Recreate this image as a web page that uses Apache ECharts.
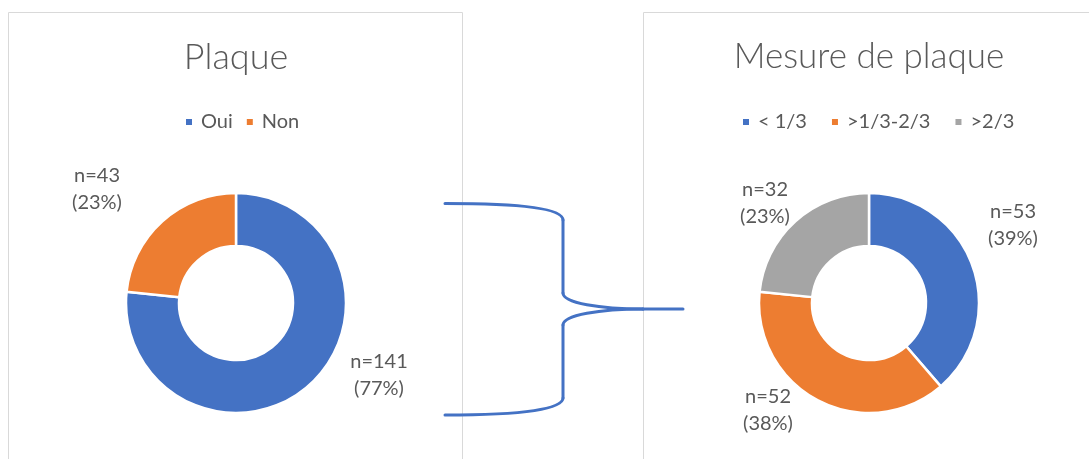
<!DOCTYPE html>
<html>
<head>
<meta charset="utf-8">
<script src="https://cdn.jsdelivr.net/npm/echarts@6/dist/echarts.min.js"></script>
<style>
html,body{margin:0;padding:0;background:#fff;}
#c{width:1089px;height:459px;}
</style>
</head>
<body>
<div id="c"></div>
<script>
// ---- data ----
const titleA = 'Plaque';
const catsA = ['Oui', 'Non'];
const valsA = [141, 43];
const titleB = 'Mesure de plaque';
const catsB = ['< 1/3', '>1/3-2/3', '>2/3'];
const valsB = [53, 52, 32];

// ---- layout / style ----
const FONT = 'Lato, "Open Sans", sans-serif';
const TXT = '#595959';
const COLORS = ['#4472C4', '#ED7D31', '#A5A5A5'];
const centerA = [236, 303];
const centerB = [869, 303];
// label anchor offsets from pie centre (layout only)
const labelOffA = [[143, 72], [-139, -114]];
const labelOffB = [[144, -78], [-101, 107], [-104, -100]];

const chart = echarts.init(document.getElementById('c'), null, {renderer: 'canvas'});

function pieSeries(cats, vals, center, offs) {
  return {
    type: 'pie',
    center: center,
    radius: [57, 110],
    startAngle: 90,
    clockwise: true,
    percentPrecision: 0,
    avoidLabelOverlap: false,
    data: cats.map((n, i) => ({name: n, value: vals[i], itemStyle: {color: COLORS[i]}})),
    itemStyle: {borderColor: '#fff', borderWidth: 2.5},
    label: {
      show: true,
      position: 'outside',
      formatter: 'n={c}\n({d}%)',
      fontFamily: FONT,
      fontSize: 20,
      lineHeight: 27,
      color: TXT,
      align: 'center'
    },
    labelLine: {show: false},
    labelLayout: function (p) {
      const o = offs[p.dataIndex];
      return {x: center[0] + o[0], y: center[1] + o[1], align: 'center', verticalAlign: 'middle'};
    },
    emphasis: {disabled: true},
    animation: false
  };
}

const legendCommon = {
  icon: 'rect',
  itemWidth: 8,
  itemHeight: 8,
  top: 107,
  textStyle: {fontFamily: FONT, fontSize: 20, color: TXT, padding: [0, 0, 0, 3]},
  selectedMode: false
};

const braceStyle = {fill: 'none', stroke: '#4472C4', lineWidth: 3, lineCap: 'round'};
function bz(x1, y1, cx1, cy1, cx2, cy2, x2, y2) {
  return {type: 'bezierCurve', silent: true, z: 10,
    shape: {x1: x1, y1: y1, cpx1: cx1, cpy1: cy1, cpx2: cx2, cpy2: cy2, x2: x2, y2: y2},
    style: braceStyle};
}
function ln(x1, y1, x2, y2) {
  return {type: 'line', silent: true, z: 10, shape: {x1: x1, y1: y1, x2: x2, y2: y2}, style: braceStyle};
}

chart.setOption({
  animation: false,
  title: [
    {text: titleA, left: centerA[0] - 5, top: 34, textAlign: 'center',
     textStyle: {fontFamily: FONT, fontSize: 36, fontWeight: 300, color: TXT}},
    {text: titleB, left: centerB[0] - 5, top: 34, textAlign: 'center',
     textStyle: {fontFamily: FONT, fontSize: 35, fontWeight: 300, color: TXT}}
  ],
  legend: [
    Object.assign({}, legendCommon, {data: catsA, left: 179, itemGap: 12}),
    Object.assign({}, legendCommon, {data: catsB, left: 736, itemGap: 23})
  ],
  series: [
    pieSeries(catsA, valsA, centerA, labelOffA),
    pieSeries(catsB, valsB, centerB, labelOffB)
  ],
  graphic: [
    {type: 'rect', silent: true, z: -1, shape: {x: 8.5, y: 12.5, width: 454, height: 470},
     style: {fill: 'none', stroke: '#D9D9D9', lineWidth: 1}},
    {type: 'rect', silent: true, z: -1, shape: {x: 643.5, y: 12.5, width: 470, height: 470},
     style: {fill: 'none', stroke: '#D9D9D9', lineWidth: 1}},
    bz(445, 203.5, 525, 203.5, 563, 209, 563, 220),
    ln(563, 220, 563, 293),
    bz(563, 293, 563, 303, 600, 309, 643, 309),
    ln(643, 309, 683, 309),
    bz(643, 309, 600, 309, 563, 315, 563, 325),
    ln(563, 325, 563, 398),
    bz(563, 398, 563, 409, 525, 415, 445, 415)
  ]
});
</script>
</body>
</html>
